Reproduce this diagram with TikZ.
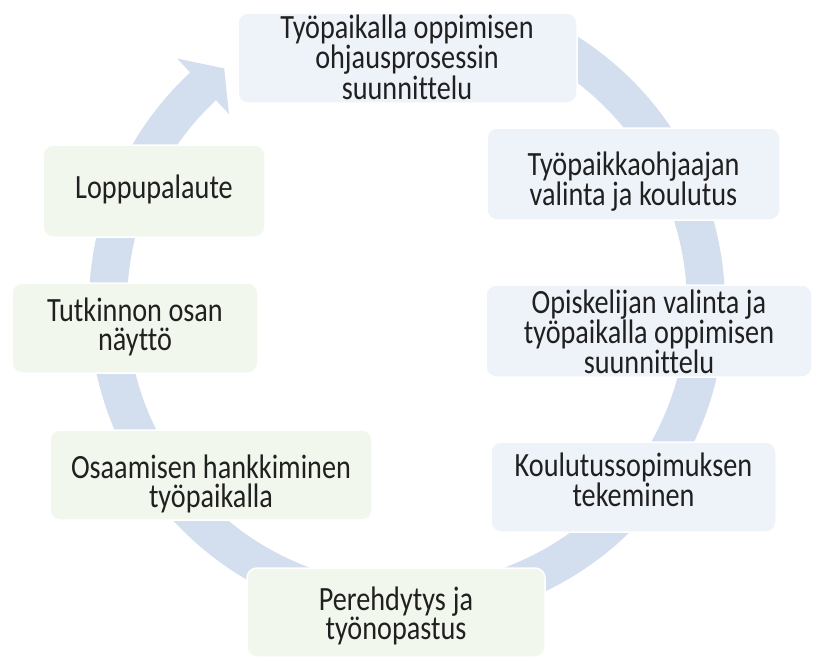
\documentclass[tikz,border=0pt]{standalone}
\usepackage{fontspec}
\setmainfont{Carlito}[FakeStretch=0.83, Ligatures={NoCommon}, RawFeature={-liga;-clig}]
\usetikzlibrary{calc}
\definecolor{arrowc}{HTML}{D3DEEF}
\definecolor{bluebox}{HTML}{EEF3F9}
\definecolor{greenbox}{HTML}{F2F7EE}
\definecolor{txtc}{HTML}{202020}
\newcommand\lblws{\spaceskip=6pt plus 1pt minus 1pt\relax}
\begin{document}
\begin{tikzpicture}[x=1pt,y=-1pt,
  box/.style={draw=white, line width=1.5pt, rounded corners=10pt, inner sep=0pt},
  bbox/.style={box, fill=bluebox},
  gbox/.style={box, fill=greenbox},
  lbl/.style={anchor=base, align=center, inner sep=0pt,
              font=\fontsize{34}{29}\selectfont, text=txtc}]
\useasboundingbox (0,0) rectangle (814,659);
\coordinate (c) at (407,305);
% circular arrow
\fill[arrowc] ($(c)+(-62:318)$) arc[start angle=-62, end angle=227, radius=318]
  -- ($(c)+(227:337)$) -- ($(c)+(232.3:299)$) -- ($(c)+(227:261)$)
  -- ($(c)+(227:280)$) arc[start angle=227, end angle=-62, radius=280] -- cycle;
% boxes
\node[bbox, minimum width=339pt, minimum height=90pt] (b1) at (407.5,58) {};
\node[bbox, minimum width=293pt, minimum height=92pt] (b2) at (633.5,174) {};
\node[bbox, minimum width=326pt, minimum height=92pt] (b3) at (649,331) {};
\node[bbox, minimum width=285pt, minimum height=90pt] (b4) at (633.5,487) {};
\node[gbox, minimum width=298pt, minimum height=89pt] (b5) at (396,612.5) {};
\node[gbox, minimum width=322pt, minimum height=90pt] (b6) at (211,475) {};
\node[gbox, minimum width=246pt, minimum height=90pt] (b7) at (135,328) {};
\node[gbox, minimum width=222pt, minimum height=92pt] (b8) at (154,191) {};
% labels
\node[lbl, text width=325pt] (t1) at (407,38.5) {\lblws Työpaikalla oppimisen\\ohjausprosessin\\suunnittelu};
\node[lbl, text width=285pt] (t2) at (633.5,175) {\lblws Työpaikkaohjaajan\\valinta ja koulutus};
\node[lbl, text width=318pt] (t3) at (649,313) {\lblws Opiskelijan valinta ja\\työpaikalla oppimisen\\suunnittelu};
\node[lbl, text width=280pt] (t4) at (633.5,476.7) {\lblws Koulutussopimuksen\\tekeminen};
\node[lbl, text width=290pt] (t5) at (396,610.7) {\lblws Perehdytys ja\\työnopastus};
\node[lbl, text width=318pt] (t6) at (211,478) {\lblws Osaamisen hankkiminen\\työpaikalla};
\node[lbl, text width=240pt] (t7) at (135,321.7) {\lblws Tutkinnon osan\\näyttö};
\node[lbl, text width=215pt] (t8) at (154,198) {\lblws Loppupalaute};
\end{tikzpicture}
\end{document}
